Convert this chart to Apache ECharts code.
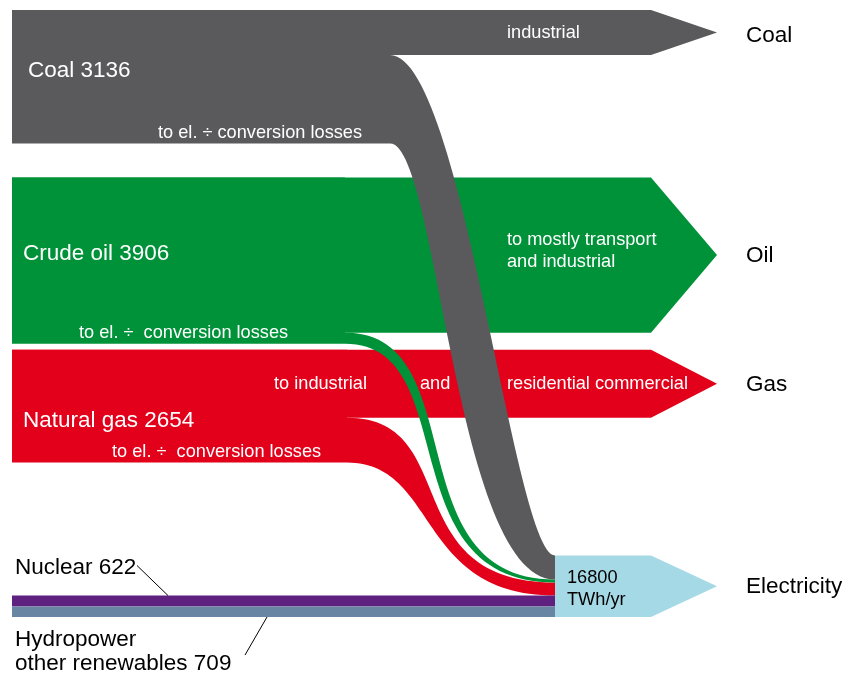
<!DOCTYPE html>
<html>
<head>
<meta charset="utf-8">
<title>Energy flows</title>
<script src="https://cdn.jsdelivr.net/npm/echarts@6/dist/echarts.min.js"></script>
<style>
  html, body { margin: 0; padding: 0; background: #fff; }
  #chart { width: 853px; height: 675px; }
</style>
</head>
<body>
<div id="chart"></div>
<script>
// ---- data (primary energy in Mtoe, electricity in TWh/yr) ----
var fuels = ['Coal', 'Crude oil', 'Natural gas'];
var primary = [3136, 3906, 2654];
var directUse = [1060, 3646, 1600];
// electricity delivered from each fuel (Mtoe eq.)
var toElectricity = [565, 70, 305];
var products = ['Coal', 'Oil', 'Gas'];
var lossLabels = ['to el. \u00f7 conversion losses', 'to el. \u00f7  conversion losses', 'to el. \u00f7  conversion losses'];
var otherNames = ['Nuclear', 'Hydropower\nother renewables'];
var otherPrimary = [622, 709];
var otherToElectricity = [255, 250];
var electricityTWh = 16800;

// ---- layout (x in page units along a hidden value axis, y in Mtoe) ----
var MTOE_PER_PX = 23.5;
var TWH_PER_MTOE = 11.63;
var X0 = 12, ELX = 555, BODY = 651, TIP = 717, OUT = 746;
var splitX = [390, 345, 347];
var gapBefore = [0, 800, 140];
var gapToElectricity = 2184;
// ribbon edge handles [top A, top B, bottom A, bottom B] as share of the run
var handles = [[0.44, 0.25, 0.29, 0.61], [0.62, 0.77, 0.57, 0.8], [0.56, 0.77, 0.44, 0.67]];
var colors = ['#5a5a5c', '#009239', '#e2001a'];
var otherColors = ['#5f2180', '#6886a3'];
var elecColor = '#a6d9e6';
var FONT = '"Liberation Sans", Arial, Helvetica, sans-serif';

var tops = [];
var acc = 0;
for (var i = 0; i < fuels.length; i++) {
  acc += gapBefore[i];
  tops.push(acc);
  acc += primary[i];
}
var elTop = acc + gapToElectricity;
var elHeight = electricityTWh / TWH_PER_MTOE;
var elIn = toElectricity.concat(otherToElectricity);
var elStack = [];
var s = elTop;
for (var k = 0; k < elIn.length; k++) {
  elStack.push([s, s + elIn[k]]);
  s += elIn[k];
}
var PX = MTOE_PER_PX;

function bez(p0, p1, p2, p3, n) {
  var out = [];
  for (var j = 0; j <= n; j++) {
    var t = j / n, u = 1 - t;
    out.push([
      u * u * u * p0[0] + 3 * u * u * t * p1[0] + 3 * u * t * t * p2[0] + t * t * t * p3[0],
      u * u * u * p0[1] + 3 * u * u * t * p1[1] + 3 * u * t * t * p2[1] + t * t * t * p3[1]
    ]);
  }
  return out;
}

function txt(api, x, y, text, size, color, extra) {
  var p = api.coord([x, y]);
  var st = {
    text: text, fill: color, fontSize: size, fontFamily: FONT,
    align: 'left', verticalAlign: 'middle', textAlign: 'left', textVerticalAlign: 'middle'
  };
  if (extra) for (var key in extra) st[key] = extra[key];
  return { type: 'text', x: p[0], y: p[1], style: st };
}

function poly(api, pts, color) {
  return {
    type: 'polygon',
    shape: { points: pts.map(function (p) { return api.coord(p); }) },
    style: { fill: color }
  };
}

function renderFuel(params, api) {
  var i = params.dataIndex;
  var top = tops[i], bot = top + primary[i], mid = top + directUse[i];
  var kids = [
    poly(api, [[X0, top], [splitX[i], top], [splitX[i], bot], [X0, bot]], colors[i]),
    poly(api, [[X0, top], [BODY, top], [TIP, (top + mid) / 2], [BODY, mid], [X0, mid]], colors[i])
  ];
  var nameX = [28, 23, 23], nameF = [0.453, 0.46, 0.63], lossX = [158, 79, 112];
  kids.push(txt(api, nameX[i], top + primary[i] * nameF[i], fuels[i] + ' ' + primary[i], 22.5, '#fff'));
  kids.push(txt(api, lossX[i], bot - 10.5 * PX, lossLabels[i], 18.2, '#fff'));
  var cy = (top + mid) / 2;
  if (i === 0) {
    kids.push(txt(api, 507, cy, 'industrial', 18.2, '#fff'));
  } else if (i === 1) {
    kids.push(txt(api, 507, cy - 4 * PX, 'to mostly transport\nand industrial', 18.2, '#fff', { lineHeight: 22 }));
  } else {
    kids.push(txt(api, 274, cy, 'to industrial', 18.2, '#fff'));
    kids.push(txt(api, 420, cy, 'and', 18.2, '#fff'));
    kids.push(txt(api, 507, cy, 'residential commercial', 18.2, '#fff'));
  }
  kids.push(txt(api, OUT, cy + (i === 0 ? 3 : 1) * PX, products[i], 22.5, '#000'));
  return { type: 'group', children: kids };
}

function renderRibbon(params, api) {
  var i = 2 - params.dataIndex;
  var sx = splitX[i], dx = ELX - sx, h = handles[i];
  var sTop = tops[i] + directUse[i], sBot = tops[i] + primary[i];
  var tTop = elStack[i][0], tBot = elStack[i][1];
  var upper = bez(
    api.coord([sx, sTop]), api.coord([sx + h[0] * dx, sTop]),
    api.coord([ELX - h[1] * dx, tTop]), api.coord([ELX, tTop]), 60);
  var lower = bez(
    api.coord([sx, sBot]), api.coord([sx + h[2] * dx, sBot]),
    api.coord([ELX - h[3] * dx, tBot]), api.coord([ELX, tBot]), 60);
  return {
    type: 'polygon',
    shape: { points: upper.concat(lower.reverse()) },
    style: { fill: colors[i] }
  };
}

function renderElectricity(params, api) {
  var kids = [];
  for (var j = 0; j < otherNames.length; j++) {
    var band = elStack[fuels.length + j];
    kids.push(poly(api, [[X0, band[0]], [ELX, band[0]], [ELX, band[1]], [X0, band[1]]], otherColors[j]));
  }
  var eb = elTop + elHeight;
  kids.push(poly(api, [[ELX, elTop], [BODY, elTop], [TIP, (elTop + eb) / 2], [BODY, eb], [ELX, eb]], elecColor));
  kids.push(txt(api, 567, (elTop + eb) / 2 + 3 * PX, electricityTWh + '\nTWh/yr', 18.2, '#000', { lineHeight: 22 }));
  kids.push(txt(api, OUT, (elTop + eb) / 2 + 1 * PX, 'Electricity', 22.5, '#000'));

  var nucTop = elStack[3][0], hydBot = elStack[4][1];
  kids.push(txt(api, 15, nucTop - 28 * PX, otherNames[0] + ' ' + otherPrimary[0], 22.5, '#000'));
  kids.push(txt(api, 15, hydBot + 35 * PX, otherNames[1] + ' ' + otherPrimary[1], 22.5, '#000', { lineHeight: 24 }));
  var a = api.coord([137, nucTop - 30 * PX]), b = api.coord([168, nucTop]);
  kids.push({ type: 'line', shape: { x1: a[0], y1: a[1], x2: b[0], y2: b[1] }, style: { stroke: '#000', lineWidth: 1 } });
  var c = api.coord([245, hydBot + 38 * PX]), d = api.coord([267, hydBot]);
  kids.push({ type: 'line', shape: { x1: c[0], y1: c[1], x2: d[0], y2: d[1] }, style: { stroke: '#000', lineWidth: 1 } });
  return { type: 'group', children: kids };
}

var chart = echarts.init(document.getElementById('chart'));
var option = {
  animation: false,
  backgroundColor: '#fff',
  grid: { left: 0, right: 0, top: 10, bottom: 0, containLabel: false },
  xAxis: { type: 'value', min: 0, max: 853, show: false },
  yAxis: { type: 'value', min: 0, max: 665 * MTOE_PER_PX, inverse: true, show: false },
  series: [
    { type: 'custom', silent: true, renderItem: renderFuel, data: [[0, 0], [1, 0], [2, 0]] },
    { type: 'custom', silent: true, renderItem: renderRibbon, data: [[0, 0], [1, 0], [2, 0]] },
    { type: 'custom', silent: true, renderItem: renderElectricity, data: [[0, 0]] }
  ]
};
chart.setOption(option);
</script>
</body>
</html>
